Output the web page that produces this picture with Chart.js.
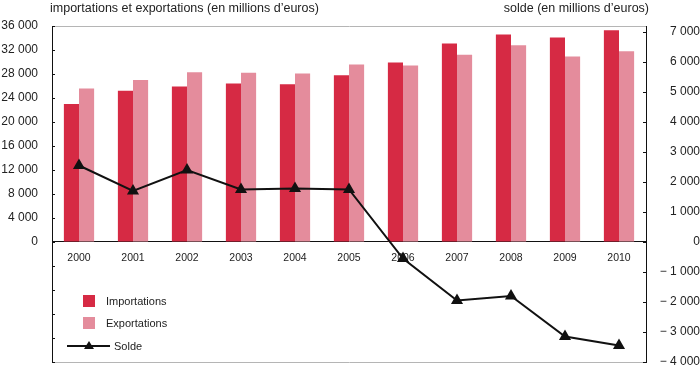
<!DOCTYPE html>
<html lang="fr">
<head>
    <meta charset="UTF-8">
    <title>Importations, exportations et solde</title>
    <style>
        * { margin: 0; padding: 0; box-sizing: border-box; }
        body {
            width: 700px;
            height: 365px;
            background: #ffffff;
            font-family: 'Liberation Sans', Arial, sans-serif;
            color: #222;
            overflow: hidden;
        }
        .wrap { position: relative; width: 700px; height: 365px; }
        canvas { position: absolute; left: 0; top: 0; }
        .titre {
            position: absolute;
            top: 1px;
            font-size: 12.5px;
            line-height: 15px;
            white-space: nowrap;
        }
        #titreGauche { left: 50px; }
        #titreDroite { right: 51px; }
        .legende { position: absolute; left: 67px; top: 294px; font-size: 11px; }
        .item { position: absolute; white-space: nowrap; height: 14px; line-height: 14px; }
        .carre { position: absolute; left: 16px; top: 1px; width: 12px; height: 12px; }
        .item span.txt { position: absolute; left: 39px; top: 0; }
        .trait { position: absolute; left: 0; top: 6px; width: 43px; height: 2px; background: #111; }
        .tri {
            position: absolute; left: 17px; top: 2px; width: 0; height: 0;
            border-left: 5px solid transparent; border-right: 5px solid transparent;
            border-bottom: 8px solid #111;
        }
    </style>
    <script src="https://cdn.jsdelivr.net/npm/chart.js"></script>
</head>
<body>
    <div class="wrap">
        <canvas id="graphique" width="700" height="365"></canvas>
        <div class="titre" id="titreGauche">importations et exportations (en millions d’euros)</div>
        <div class="titre" id="titreDroite">solde (en millions d’euros)</div>
        <div class="legende">
            <div class="item" style="top:0px"><div class="carre" id="carreImp"></div><span class="txt">Importations</span></div>
            <div class="item" style="top:22px"><div class="carre" id="carreExp"></div><span class="txt">Exportations</span></div>
            <div class="item" style="top:45px"><div class="trait"></div><div class="tri"></div><span class="txt" style="left:47px">Solde</span></div>
        </div>
    </div>
    <script>
        // données (millions d'euros)
        const annees = ['2000', '2001', '2002', '2003', '2004', '2005', '2006', '2007', '2008', '2009', '2010'];
        const importations = [23000, 25200, 25900, 26400, 26300, 27800, 29900, 33100, 34600, 34100, 35300];
        const exportations = [25600, 27000, 28300, 28200, 28100, 29600, 29400, 31200, 32800, 30900, 31800];
        const solde = [2550, 1700, 2400, 1750, 1780, 1750, -550, -1950, -1800, -3150, -3450];

        const ticksGauche = [-20000, -16000, -12000, -8000, -4000, 0, 4000, 8000, 12000, 16000, 20000, 24000, 28000, 32000, 36000];
        const ticksDroite = [-4000, -3000, -2000, -1000, 0, 1000, 2000, 3000, 4000, 5000, 6000, 7000];

        const couleurImp = '#d62a44';
        const couleurExp = '#e48c9c';
        document.getElementById('carreImp').style.background = couleurImp;
        document.getElementById('carreExp').style.background = couleurExp;

        const police = "'Liberation Sans', Arial, sans-serif";

        function formatNombre(v) {
            const abs = Math.abs(v).toString().replace(/\B(?=(\d{3})+(?!\d))/g, ' ');
            return v < 0 ? '\u2212 ' + abs : abs;
        }

        // petites graduations tournées vers l'intérieur
        const graduations = {
            id: 'graduations',
            afterDatasetsDraw(chart) {
                const c = chart.ctx;
                const g = chart.scales.y;
                const d = chart.scales.y1;
                c.save();
                c.strokeStyle = '#111';
                c.lineWidth = 1;
                c.beginPath();
                ticksGauche.forEach(v => {
                    const py = Math.round(g.getPixelForValue(v)) + 0.5;
                    c.moveTo(g.right, py);
                    c.lineTo(g.right + 3, py);
                });
                ticksDroite.forEach(v => {
                    const py = Math.round(d.getPixelForValue(v)) + 0.5;
                    c.moveTo(d.left - 3, py);
                    c.lineTo(d.left, py);
                });
                c.stroke();
                c.restore();
            }
        };

        // l'axe vertical ne réserve pas de marge pour ses étiquettes extrêmes
        function largeurAxe(w) {
            return s => {
                s.width = w;
                s.paddingTop = 0;
                s.paddingBottom = 0;
            };
        }

        const ctx = document.getElementById('graphique').getContext('2d');
        new Chart(ctx, {
            data: {
                labels: annees,
                datasets: [
                    {
                        type: 'line',
                        label: 'Solde',
                        data: solde,
                        yAxisID: 'y1',
                        borderColor: '#111',
                        borderWidth: 2,
                        pointStyle: 'triangle',
                        pointRadius: 5,
                        pointBackgroundColor: '#111',
                        pointBorderColor: '#111',
                        tension: 0,
                        order: 0
                    },
                    {
                        type: 'bar',
                        label: 'Importations',
                        data: importations,
                        yAxisID: 'y',
                        backgroundColor: couleurImp,
                        categoryPercentage: 0.56,
                        barPercentage: 1,
                        order: 1
                    },
                    {
                        type: 'bar',
                        label: 'Exportations',
                        data: exportations,
                        yAxisID: 'y',
                        backgroundColor: couleurExp,
                        categoryPercentage: 0.56,
                        barPercentage: 1,
                        order: 1
                    }
                ]
            },
            options: {
                responsive: false,
                animation: false,
                layout: { autoPadding: false, padding: { top: 26, bottom: 3, left: 0, right: 0 } },
                plugins: {
                    legend: { display: false },
                    tooltip: { enabled: false }
                },
                scales: {
                    x: {
                        position: { y: 0 },
                        grid: { display: false },
                        border: { display: false },
                        ticks: {
                            color: '#222',
                            font: { family: police, size: 10.5 },
                            padding: 2,
                            maxRotation: 0
                        }
                    },
                    y: {
                        position: 'left',
                        min: -20000,
                        max: 36000,
                        afterFit: largeurAxe(52),
                        afterBuildTicks: s => { s.ticks = ticksGauche.map(v => ({ value: v })); },
                        border: { display: true, color: '#111', width: 1 },
                        grid: {
                            drawTicks: false,
                            color: c => {
                                const v = c.tick.value;
                                if (v === 0) return '#111';
                                if (v === 36000 || v === -20000) return '#b5b5b5';
                                return 'rgba(0,0,0,0)';
                            }
                        },
                        ticks: {
                            color: '#222',
                            font: { family: police, size: 12 },
                            padding: 14,
                            callback: v => v >= 0 ? formatNombre(v) : ''
                        }
                    },
                    y1: {
                        position: 'right',
                        min: -4000,
                        max: 7200,
                        afterFit: largeurAxe(54),
                        afterBuildTicks: s => { s.ticks = ticksDroite.map(v => ({ value: v })); },
                        border: { display: true, color: '#111', width: 1 },
                        grid: { drawOnChartArea: false, drawTicks: false },
                        ticks: {
                            color: '#222',
                            font: { family: police, size: 12 },
                            padding: 7,
                            crossAlign: 'far',
                            callback: v => formatNombre(v)
                        }
                    }
                }
            },
            plugins: [graduations]
        });
    </script>
</body>
</html>
